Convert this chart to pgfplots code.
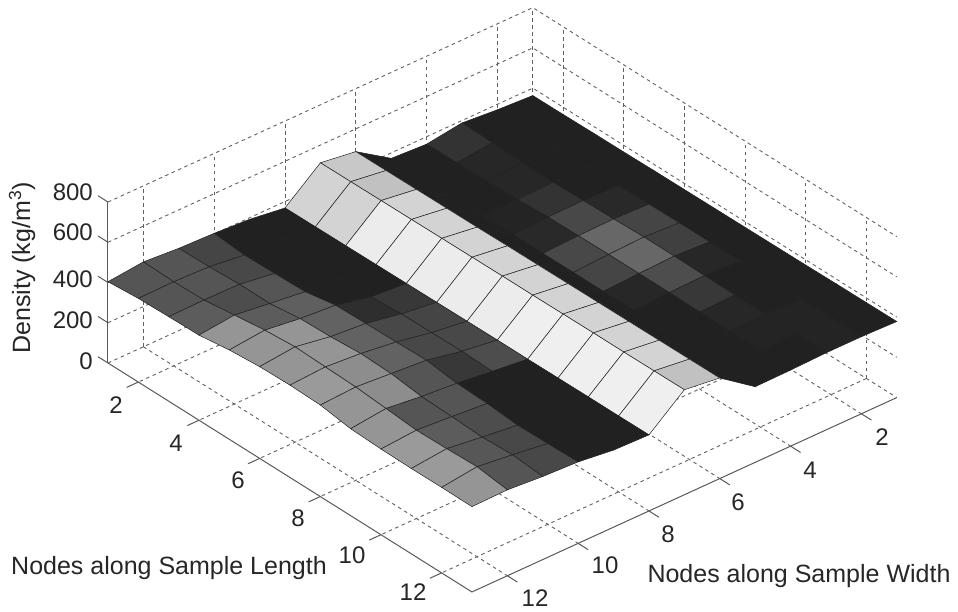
\documentclass[border=0pt]{standalone}
\usepackage{fontspec}
\setmainfont{Liberation Sans}
\usepackage{pgfplots}
\pgfplotsset{compat=1.18}
\usetikzlibrary{calc}
\tikzset{gridl/.style={draw=black!62,line width=0.9pt,dash pattern=on 3.5pt off 3.5pt},
         axl/.style={draw=black!65,line width=1pt}}
\newcommand\lab[4][]{\node[text=black!85,inner sep=0pt,#1] at ($(fl)+({(#2-108)*1pt},{(363-#3)*1pt})$) {#4};}
\begin{document}
\begin{tikzpicture}[x=1pt,y=1pt]
\begin{axis}[
  x={(30.33pt,-19.08pt)}, y={(-35.4pt,-16.2pt)}, z={(0pt,0.2012pt)},
  xmin=1,xmax=13,ymin=1,ymax=13,zmin=0,zmax=800,
  hide axis, clip=false,
  colormap={g}{gray(0cm)=(0); gray(1cm)=(1)},
  point meta min=0, point meta max=1,
]
\coordinate (fl) at (axis cs:1,13,0);
% floor and wall grid
\pgfplotsinvokeforeach{2,4,6,8,10,12}{
  \draw[gridl] (axis cs:#1,1,0) -- (axis cs:#1,13,0);
  \draw[gridl] (axis cs:1,#1,0) -- (axis cs:13,#1,0);
  \draw[gridl] (axis cs:1,#1,0) -- (axis cs:1,#1,800);
  \draw[gridl] (axis cs:#1,1,0) -- (axis cs:#1,1,800);
  \draw[axl] (axis cs:#1,13,0) -- (axis cs:#1,13.33,0);
  \draw[axl] (axis cs:13,#1,0) -- (axis cs:13.33,#1,0);
}
\pgfplotsinvokeforeach{0,200,400,600,800}{
  \draw[gridl] (axis cs:1,13,#1) -- (axis cs:1,1,#1) -- (axis cs:13,1,#1);
  \draw[axl] (axis cs:1,13,#1) -- (axis cs:0.67,13,#1);
}
\draw[gridl] (axis cs:1,1,0) -- (axis cs:1,1,800);
\draw[axl] (axis cs:1,13,0) -- (axis cs:13,13,0) -- (axis cs:13,1,0);
\draw[axl] (axis cs:1,13,0) -- (axis cs:1,13,800);
\addplot3[surf, shader=flat corner, draw=black!87, line width=0.5pt, z buffer=none,
  mesh/ordering=x varies, mesh/rows=13, mesh/cols=13, point meta=explicit]
 table[x=x,y=y,z=z,meta=c,row sep=\\] {
x y z c\\
1 1 363 .13\\ 2 1 364 .13\\ 3 1 366 .13\\ 4 1 367 .13\\ 5 1 369 .13\\ 6 1 370 .13\\ 7 1 371 .13\\ 8 1 372 .13\\ 9 1 373 .13\\ 10 1 374 .13\\ 11 1 376 .13\\ 12 1 377 .13\\ 13 1 378 .13\\
1 2 373 .13\\ 2 2 373 .13\\ 3 2 374 .13\\ 4 2 375 .13\\ 5 2 376 .16\\ 6 2 378 .27\\ 7 2 380 .25\\ 8 2 380 .15\\ 9 2 380 .13\\ 10 2 380 .13\\ 11 2 380 .14\\ 12 2 382 .14\\ 13 2 383 .14\\
1 3 388 .2\\ 2 3 385 .15\\ 3 3 380 .15\\ 4 3 378 .2\\ 5 3 382 .28\\ 6 3 385 .4\\ 7 3 390 .4\\ 8 3 390 .3\\ 9 3 388 .22\\ 10 3 386 .15\\ 11 3 385 .14\\ 12 3 384 .13\\ 13 3 383 .13\\
1 4 363 .13\\ 2 4 365 .13\\ 3 4 367 .13\\ 4 4 372 .14\\ 5 4 380 .16\\ 6 4 382 .28\\ 7 4 384 .27\\ 8 4 384 .15\\ 9 4 384 .13\\ 10 4 382 .13\\ 11 4 380 .13\\ 12 4 379 .13\\ 13 4 378 .13\\
1 5 373 .13\\ 2 5 373 .13\\ 3 5 373 .13\\ 4 5 374 .13\\ 5 5 374 .13\\ 6 5 374 .13\\ 7 5 375 .13\\ 8 5 375 .13\\ 9 5 375 .13\\ 10 5 375 .13\\ 11 5 376 .13\\ 12 5 376 .13\\ 13 5 376 .13\\
1 6 487 .78\\ 2 6 488 .75\\ 3 6 489 .82\\ 4 6 490 .82\\ 5 6 491 .82\\ 6 6 493 .82\\ 7 6 494 .82\\ 8 6 495 .82\\ 9 6 496 .82\\ 10 6 497 .82\\ 11 6 498 .82\\ 12 6 499 .75\\ 13 6 500 .75\\
1 7 512 .82\\ 2 7 513 .82\\ 3 7 514 .92\\ 4 7 515 .92\\ 5 7 516 .92\\ 6 7 517 .92\\ 7 7 518 .92\\ 8 7 518 .93\\ 9 7 519 .93\\ 10 7 520 .93\\ 11 7 520 .93\\ 12 7 521 .93\\ 13 7 522 .93\\
1 8 368 .13\\ 2 8 369 .13\\ 3 8 370 .13\\ 4 8 371 .13\\ 5 8 372 .22\\ 6 8 373 .27\\ 7 8 374 .28\\ 8 8 375 .3\\ 9 8 375 .13\\ 10 8 376 .13\\ 11 8 377 .13\\ 12 8 377 .13\\ 13 8 378 .13\\
1 9 392 .13\\ 2 9 390 .13\\ 3 9 388 .13\\ 4 9 385 .13\\ 5 9 386 .18\\ 6 9 396 .28\\ 7 9 398 .28\\ 8 9 400 .22\\ 9 9 395 .13\\ 10 9 390 .13\\ 11 9 388 .13\\ 12 9 385 .13\\ 13 9 383 .13\\
1 10 403 .27\\ 2 10 390 .28\\ 3 10 393 .33\\ 4 10 397 .37\\ 5 10 425 .38\\ 6 10 429 .38\\ 7 10 432 .38\\ 8 10 436 .33\\ 9 10 416 .33\\ 10 10 411 .3\\ 11 10 398 .28\\ 12 10 401 .28\\ 13 10 405 .28\\
1 11 409 .33\\ 2 11 412 .33\\ 3 11 420 .3\\ 4 11 419 .36\\ 5 11 439 .58\\ 6 11 444 .58\\ 7 11 455 .55\\ 8 11 450 .55\\ 9 11 431 .33\\ 10 11 426 .36\\ 11 11 419 .34\\ 12 11 426 .33\\ 13 11 413 .33\\
1 12 422 .33\\ 2 12 418 .33\\ 3 12 422 .36\\ 4 12 442 .58\\ 5 12 462 .58\\ 6 12 474 .58\\ 7 12 469 .6\\ 8 12 464 .58\\ 9 12 452 .58\\ 10 12 439 .6\\ 11 12 442 .6\\ 12 12 447 .58\\ 13 12 427 .58\\
1 13 404 0\\ 2 13 416 0\\ 3 13 420 0\\ 4 13 423 0\\ 5 13 444 0\\ 6 13 456 0\\ 7 13 459 0\\ 8 13 455 0\\ 9 13 432 0\\ 10 13 426 0\\ 11 13 424 0\\ 12 13 425 0\\ 13 13 424 0\\
};
\end{axis}
\pgfresetboundingbox
\path[use as bounding box] ($(fl)+(-108pt,-249pt)$) rectangle ($(fl)+(850pt,363pt)$);
\def\tickfs{\fontsize{24}{27}\selectfont}
\def\labfs{\fontsize{25}{28}\selectfont}
\lab[anchor=east]{93}{192}{\tickfs 800}
\lab[anchor=east]{93}{232}{\tickfs 600}
\lab[anchor=east]{93}{279}{\tickfs 400}
\lab[anchor=east]{93}{320}{\tickfs 200}
\lab[anchor=east]{93}{361}{\tickfs 0}
\lab{116}{405}{\tickfs 2}
\lab{176}{443}{\tickfs 4}
\lab{238}{480}{\tickfs 6}
\lab{298}{518}{\tickfs 8}
\lab{352}{555}{\tickfs 10}
\lab{413}{592}{\tickfs 12}
\lab{882}{437}{\tickfs 2}
\lab{810}{470}{\tickfs 4}
\lab{738}{502}{\tickfs 6}
\lab{668}{534}{\tickfs 8}
\lab{605}{565}{\tickfs 10}
\lab{535}{598}{\tickfs 12}
\lab[rotate=90]{22}{268}{\labfs Density (kg/m\textsuperscript{3})}
\lab{169}{568}{\labfs Nodes along Sample Length}
\lab{799}{576}{\labfs Nodes along Sample Width}
\end{tikzpicture}
\end{document}
